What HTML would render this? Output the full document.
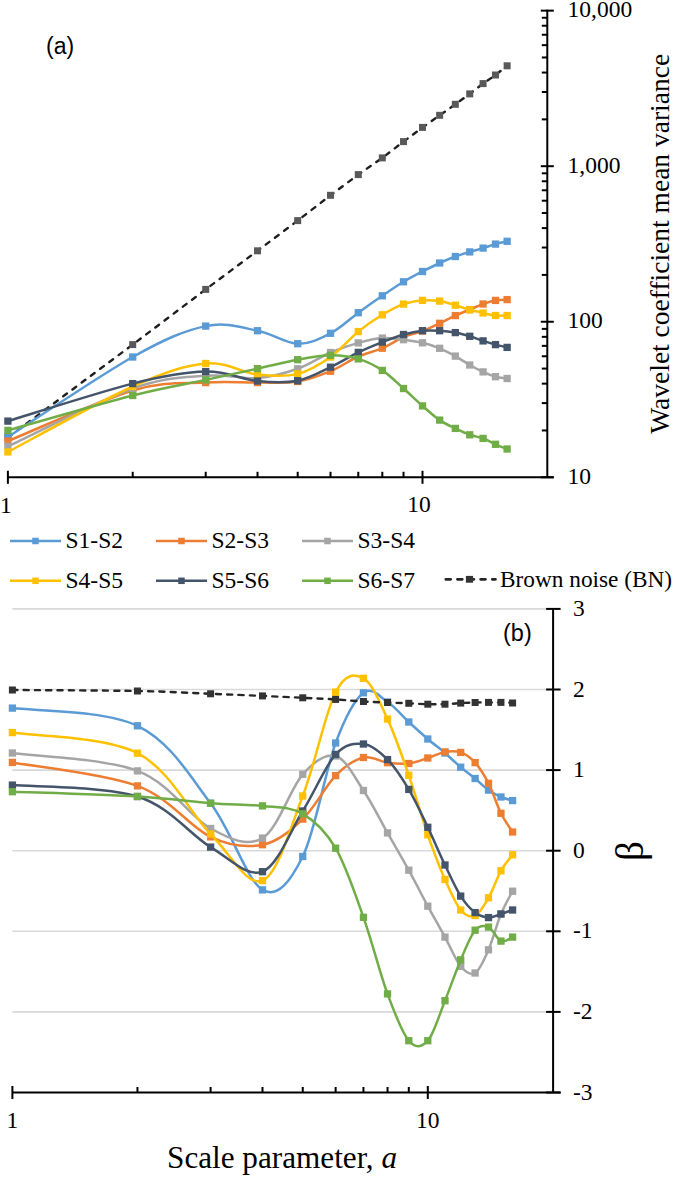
<!DOCTYPE html>
<html><head><meta charset="utf-8"><style>
html,body{margin:0;padding:0;background:#fff;}
body{width:675px;height:1177px;overflow:hidden;font-family:"Liberation Serif",serif;}
svg{display:block;}
</style></head><body>
<svg width="675" height="1177" viewBox="0 0 675 1177">
<rect width="675" height="1177" fill="#fff"/>
<path d="M7.90,437.50 L132.71,344.60 L205.71,289.40 L257.51,250.80 L297.69,220.60 L330.52,195.30 L358.28,174.60 L382.32,157.90 L403.53,141.60 L422.50,127.40 L439.66,115.30 L455.33,104.30 L469.74,93.90 L483.08,83.60 L495.51,75.00 L507.13,65.80" fill="none" stroke="#1e1e1e" stroke-width="2.4" stroke-linejoin="round" stroke-dasharray="4.6 6.9" stroke-linecap="round"/>
<rect x="4.40" y="434.00" width="7" height="7" fill="#595959"/>
<rect x="129.21" y="341.10" width="7" height="7" fill="#595959"/>
<rect x="202.21" y="285.90" width="7" height="7" fill="#595959"/>
<rect x="254.01" y="247.30" width="7" height="7" fill="#595959"/>
<rect x="294.19" y="217.10" width="7" height="7" fill="#595959"/>
<rect x="327.02" y="191.80" width="7" height="7" fill="#595959"/>
<rect x="354.78" y="171.10" width="7" height="7" fill="#595959"/>
<rect x="378.82" y="154.40" width="7" height="7" fill="#595959"/>
<rect x="400.03" y="138.10" width="7" height="7" fill="#595959"/>
<rect x="419.00" y="123.90" width="7" height="7" fill="#595959"/>
<rect x="436.16" y="111.80" width="7" height="7" fill="#595959"/>
<rect x="451.83" y="100.80" width="7" height="7" fill="#595959"/>
<rect x="466.24" y="90.40" width="7" height="7" fill="#595959"/>
<rect x="479.58" y="80.10" width="7" height="7" fill="#595959"/>
<rect x="492.01" y="71.50" width="7" height="7" fill="#595959"/>
<rect x="503.63" y="62.30" width="7" height="7" fill="#595959"/>
<path d="M7.90,437.00 C28.70,423.67 99.74,375.48 132.71,357.00 C165.68,338.52 184.91,330.48 205.71,326.10 C226.52,321.72 242.18,327.77 257.51,330.70 C272.84,333.63 285.53,343.27 297.69,343.70 C309.86,344.13 320.42,338.47 330.52,333.30 C340.62,328.13 349.64,318.95 358.28,312.70 C366.91,306.45 374.78,300.95 382.32,295.80 C389.86,290.65 396.83,285.85 403.53,281.80 C410.23,277.75 416.48,274.63 422.50,271.50 C428.52,268.37 434.19,265.50 439.66,263.00 C445.13,260.50 450.32,258.35 455.33,256.50 C460.34,254.65 465.11,253.30 469.74,251.90 C474.37,250.50 478.79,249.40 483.08,248.10 C487.38,246.80 491.50,245.23 495.51,244.10 C499.51,242.97 505.19,241.77 507.13,241.30" fill="none" stroke="#5B9BD5" stroke-width="2.5" stroke-linejoin="round"/>
<rect x="4.25" y="433.35" width="7.3" height="7.3" fill="#5B9BD5"/>
<rect x="129.06" y="353.35" width="7.3" height="7.3" fill="#5B9BD5"/>
<rect x="202.06" y="322.45" width="7.3" height="7.3" fill="#5B9BD5"/>
<rect x="253.86" y="327.05" width="7.3" height="7.3" fill="#5B9BD5"/>
<rect x="294.04" y="340.05" width="7.3" height="7.3" fill="#5B9BD5"/>
<rect x="326.87" y="329.65" width="7.3" height="7.3" fill="#5B9BD5"/>
<rect x="354.63" y="309.05" width="7.3" height="7.3" fill="#5B9BD5"/>
<rect x="378.67" y="292.15" width="7.3" height="7.3" fill="#5B9BD5"/>
<rect x="399.88" y="278.15" width="7.3" height="7.3" fill="#5B9BD5"/>
<rect x="418.85" y="267.85" width="7.3" height="7.3" fill="#5B9BD5"/>
<rect x="436.01" y="259.35" width="7.3" height="7.3" fill="#5B9BD5"/>
<rect x="451.68" y="252.85" width="7.3" height="7.3" fill="#5B9BD5"/>
<rect x="466.09" y="248.25" width="7.3" height="7.3" fill="#5B9BD5"/>
<rect x="479.43" y="244.45" width="7.3" height="7.3" fill="#5B9BD5"/>
<rect x="491.86" y="240.45" width="7.3" height="7.3" fill="#5B9BD5"/>
<rect x="503.48" y="237.65" width="7.3" height="7.3" fill="#5B9BD5"/>
<path d="M7.90,441.10 C28.70,432.67 99.74,400.25 132.71,390.50 C165.68,380.75 184.91,383.92 205.71,382.60 C226.52,381.28 242.18,382.78 257.51,382.60 C272.84,382.42 285.53,383.40 297.69,381.50 C309.86,379.60 320.42,375.37 330.52,371.20 C340.62,367.03 349.64,360.33 358.28,356.50 C366.91,352.67 374.78,351.45 382.32,348.20 C389.86,344.95 396.83,339.87 403.53,337.00 C410.23,334.13 416.48,333.28 422.50,331.00 C428.52,328.72 434.19,325.87 439.66,323.30 C445.13,320.73 450.32,317.88 455.33,315.60 C460.34,313.32 465.11,311.53 469.74,309.60 C474.37,307.67 478.79,305.53 483.08,304.00 C487.38,302.47 491.50,301.13 495.51,300.40 C499.51,299.67 505.19,299.73 507.13,299.60" fill="none" stroke="#ED7D31" stroke-width="2.5" stroke-linejoin="round"/>
<rect x="4.25" y="437.45" width="7.3" height="7.3" fill="#ED7D31"/>
<rect x="129.06" y="386.85" width="7.3" height="7.3" fill="#ED7D31"/>
<rect x="202.06" y="378.95" width="7.3" height="7.3" fill="#ED7D31"/>
<rect x="253.86" y="378.95" width="7.3" height="7.3" fill="#ED7D31"/>
<rect x="294.04" y="377.85" width="7.3" height="7.3" fill="#ED7D31"/>
<rect x="326.87" y="367.55" width="7.3" height="7.3" fill="#ED7D31"/>
<rect x="354.63" y="352.85" width="7.3" height="7.3" fill="#ED7D31"/>
<rect x="378.67" y="344.55" width="7.3" height="7.3" fill="#ED7D31"/>
<rect x="399.88" y="333.35" width="7.3" height="7.3" fill="#ED7D31"/>
<rect x="418.85" y="327.35" width="7.3" height="7.3" fill="#ED7D31"/>
<rect x="436.01" y="319.65" width="7.3" height="7.3" fill="#ED7D31"/>
<rect x="451.68" y="311.95" width="7.3" height="7.3" fill="#ED7D31"/>
<rect x="466.09" y="305.95" width="7.3" height="7.3" fill="#ED7D31"/>
<rect x="479.43" y="300.35" width="7.3" height="7.3" fill="#ED7D31"/>
<rect x="491.86" y="296.75" width="7.3" height="7.3" fill="#ED7D31"/>
<rect x="503.48" y="295.95" width="7.3" height="7.3" fill="#ED7D31"/>
<path d="M7.90,446.30 C28.70,436.67 99.74,400.27 132.71,388.50 C165.68,376.73 184.91,377.45 205.71,375.70 C226.52,373.95 242.18,379.15 257.51,378.00 C272.84,376.85 285.53,373.05 297.69,368.80 C309.86,364.55 320.42,356.82 330.52,352.50 C340.62,348.18 349.64,345.30 358.28,342.90 C366.91,340.50 374.78,338.63 382.32,338.10 C389.86,337.57 396.83,338.92 403.53,339.70 C410.23,340.48 416.48,341.37 422.50,342.80 C428.52,344.23 434.19,346.08 439.66,348.30 C445.13,350.52 450.32,353.32 455.33,356.10 C460.34,358.88 465.11,362.37 469.74,365.00 C474.37,367.63 478.79,369.95 483.08,371.90 C487.38,373.85 491.50,375.60 495.51,376.70 C499.51,377.80 505.19,378.20 507.13,378.50" fill="none" stroke="#A5A5A5" stroke-width="2.5" stroke-linejoin="round"/>
<rect x="4.25" y="442.65" width="7.3" height="7.3" fill="#A5A5A5"/>
<rect x="129.06" y="384.85" width="7.3" height="7.3" fill="#A5A5A5"/>
<rect x="202.06" y="372.05" width="7.3" height="7.3" fill="#A5A5A5"/>
<rect x="253.86" y="374.35" width="7.3" height="7.3" fill="#A5A5A5"/>
<rect x="294.04" y="365.15" width="7.3" height="7.3" fill="#A5A5A5"/>
<rect x="326.87" y="348.85" width="7.3" height="7.3" fill="#A5A5A5"/>
<rect x="354.63" y="339.25" width="7.3" height="7.3" fill="#A5A5A5"/>
<rect x="378.67" y="334.45" width="7.3" height="7.3" fill="#A5A5A5"/>
<rect x="399.88" y="336.05" width="7.3" height="7.3" fill="#A5A5A5"/>
<rect x="418.85" y="339.15" width="7.3" height="7.3" fill="#A5A5A5"/>
<rect x="436.01" y="344.65" width="7.3" height="7.3" fill="#A5A5A5"/>
<rect x="451.68" y="352.45" width="7.3" height="7.3" fill="#A5A5A5"/>
<rect x="466.09" y="361.35" width="7.3" height="7.3" fill="#A5A5A5"/>
<rect x="479.43" y="368.25" width="7.3" height="7.3" fill="#A5A5A5"/>
<rect x="491.86" y="373.05" width="7.3" height="7.3" fill="#A5A5A5"/>
<rect x="503.48" y="374.85" width="7.3" height="7.3" fill="#A5A5A5"/>
<path d="M7.90,451.90 C28.70,441.00 99.74,401.23 132.71,386.50 C165.68,371.77 184.91,365.50 205.71,363.50 C226.52,361.50 242.18,372.77 257.51,374.50 C272.84,376.23 285.53,376.82 297.69,373.90 C309.86,370.98 320.42,364.05 330.52,357.00 C340.62,349.95 349.64,338.63 358.28,331.60 C366.91,324.57 374.78,319.38 382.32,314.80 C389.86,310.22 396.83,306.50 403.53,304.10 C410.23,301.70 416.48,300.90 422.50,300.40 C428.52,299.90 434.19,300.30 439.66,301.10 C445.13,301.90 450.32,303.75 455.33,305.20 C460.34,306.65 465.11,308.50 469.74,309.80 C474.37,311.10 478.79,312.05 483.08,313.00 C487.38,313.95 491.50,315.08 495.51,315.50 C499.51,315.92 505.19,315.50 507.13,315.50" fill="none" stroke="#FFC000" stroke-width="2.5" stroke-linejoin="round"/>
<rect x="4.25" y="448.25" width="7.3" height="7.3" fill="#FFC000"/>
<rect x="129.06" y="382.85" width="7.3" height="7.3" fill="#FFC000"/>
<rect x="202.06" y="359.85" width="7.3" height="7.3" fill="#FFC000"/>
<rect x="253.86" y="370.85" width="7.3" height="7.3" fill="#FFC000"/>
<rect x="294.04" y="370.25" width="7.3" height="7.3" fill="#FFC000"/>
<rect x="326.87" y="353.35" width="7.3" height="7.3" fill="#FFC000"/>
<rect x="354.63" y="327.95" width="7.3" height="7.3" fill="#FFC000"/>
<rect x="378.67" y="311.15" width="7.3" height="7.3" fill="#FFC000"/>
<rect x="399.88" y="300.45" width="7.3" height="7.3" fill="#FFC000"/>
<rect x="418.85" y="296.75" width="7.3" height="7.3" fill="#FFC000"/>
<rect x="436.01" y="297.45" width="7.3" height="7.3" fill="#FFC000"/>
<rect x="451.68" y="301.55" width="7.3" height="7.3" fill="#FFC000"/>
<rect x="466.09" y="306.15" width="7.3" height="7.3" fill="#FFC000"/>
<rect x="479.43" y="309.35" width="7.3" height="7.3" fill="#FFC000"/>
<rect x="491.86" y="311.85" width="7.3" height="7.3" fill="#FFC000"/>
<rect x="503.48" y="311.85" width="7.3" height="7.3" fill="#FFC000"/>
<path d="M7.90,421.10 C28.70,414.85 99.74,391.85 132.71,383.60 C165.68,375.35 184.91,372.03 205.71,371.60 C226.52,371.17 242.18,379.48 257.51,381.00 C272.84,382.52 285.53,383.00 297.69,380.70 C309.86,378.40 320.42,371.92 330.52,367.20 C340.62,362.48 349.64,356.58 358.28,352.40 C366.91,348.22 374.78,345.08 382.32,342.10 C389.86,339.12 396.83,336.40 403.53,334.50 C410.23,332.60 416.48,331.33 422.50,330.70 C428.52,330.07 434.19,330.38 439.66,330.70 C445.13,331.02 450.32,331.67 455.33,332.60 C460.34,333.53 465.11,334.92 469.74,336.30 C474.37,337.68 478.79,339.52 483.08,340.90 C487.38,342.28 491.50,343.52 495.51,344.60 C499.51,345.68 505.19,346.93 507.13,347.40" fill="none" stroke="#44546A" stroke-width="2.5" stroke-linejoin="round"/>
<rect x="4.25" y="417.45" width="7.3" height="7.3" fill="#44546A"/>
<rect x="129.06" y="379.95" width="7.3" height="7.3" fill="#44546A"/>
<rect x="202.06" y="367.95" width="7.3" height="7.3" fill="#44546A"/>
<rect x="253.86" y="377.35" width="7.3" height="7.3" fill="#44546A"/>
<rect x="294.04" y="377.05" width="7.3" height="7.3" fill="#44546A"/>
<rect x="326.87" y="363.55" width="7.3" height="7.3" fill="#44546A"/>
<rect x="354.63" y="348.75" width="7.3" height="7.3" fill="#44546A"/>
<rect x="378.67" y="338.45" width="7.3" height="7.3" fill="#44546A"/>
<rect x="399.88" y="330.85" width="7.3" height="7.3" fill="#44546A"/>
<rect x="418.85" y="327.05" width="7.3" height="7.3" fill="#44546A"/>
<rect x="436.01" y="327.05" width="7.3" height="7.3" fill="#44546A"/>
<rect x="451.68" y="328.95" width="7.3" height="7.3" fill="#44546A"/>
<rect x="466.09" y="332.65" width="7.3" height="7.3" fill="#44546A"/>
<rect x="479.43" y="337.25" width="7.3" height="7.3" fill="#44546A"/>
<rect x="491.86" y="340.95" width="7.3" height="7.3" fill="#44546A"/>
<rect x="503.48" y="343.75" width="7.3" height="7.3" fill="#44546A"/>
<path d="M7.90,430.40 C28.70,424.58 99.74,403.92 132.71,395.50 C165.68,387.08 184.91,384.38 205.71,379.90 C226.52,375.42 242.18,371.97 257.51,368.60 C272.84,365.23 285.53,361.92 297.69,359.70 C309.86,357.48 320.42,355.43 330.52,355.30 C340.62,355.17 349.64,356.38 358.28,358.90 C366.91,361.42 374.78,365.47 382.32,370.40 C389.86,375.33 396.83,382.58 403.53,388.50 C410.23,394.42 416.48,400.63 422.50,405.90 C428.52,411.17 434.19,416.35 439.66,420.10 C445.13,423.85 450.32,425.95 455.33,428.40 C460.34,430.85 465.11,433.13 469.74,434.80 C474.37,436.47 478.79,436.82 483.08,438.40 C487.38,439.98 491.50,442.53 495.51,444.30 C499.51,446.07 505.19,448.22 507.13,449.00" fill="none" stroke="#70AD47" stroke-width="2.5" stroke-linejoin="round"/>
<rect x="4.25" y="426.75" width="7.3" height="7.3" fill="#70AD47"/>
<rect x="129.06" y="391.85" width="7.3" height="7.3" fill="#70AD47"/>
<rect x="202.06" y="376.25" width="7.3" height="7.3" fill="#70AD47"/>
<rect x="253.86" y="364.95" width="7.3" height="7.3" fill="#70AD47"/>
<rect x="294.04" y="356.05" width="7.3" height="7.3" fill="#70AD47"/>
<rect x="326.87" y="351.65" width="7.3" height="7.3" fill="#70AD47"/>
<rect x="354.63" y="355.25" width="7.3" height="7.3" fill="#70AD47"/>
<rect x="378.67" y="366.75" width="7.3" height="7.3" fill="#70AD47"/>
<rect x="399.88" y="384.85" width="7.3" height="7.3" fill="#70AD47"/>
<rect x="418.85" y="402.25" width="7.3" height="7.3" fill="#70AD47"/>
<rect x="436.01" y="416.45" width="7.3" height="7.3" fill="#70AD47"/>
<rect x="451.68" y="424.75" width="7.3" height="7.3" fill="#70AD47"/>
<rect x="466.09" y="431.15" width="7.3" height="7.3" fill="#70AD47"/>
<rect x="479.43" y="434.75" width="7.3" height="7.3" fill="#70AD47"/>
<rect x="491.86" y="440.65" width="7.3" height="7.3" fill="#70AD47"/>
<rect x="503.48" y="445.35" width="7.3" height="7.3" fill="#70AD47"/>
<g stroke="#000" stroke-width="2"><line x1="7.90" y1="477.30" x2="553.80" y2="477.30"/>
<line x1="547.30" y1="477.30" x2="547.30" y2="9.65"/>
<line x1="7.90" y1="470.80" x2="7.90" y2="483.80"/>
<line x1="132.71" y1="471.80" x2="132.71" y2="477.30"/>
<line x1="205.71" y1="471.80" x2="205.71" y2="477.30"/>
<line x1="257.51" y1="471.80" x2="257.51" y2="477.30"/>
<line x1="297.69" y1="471.80" x2="297.69" y2="477.30"/>
<line x1="330.52" y1="471.80" x2="330.52" y2="477.30"/>
<line x1="358.28" y1="471.80" x2="358.28" y2="477.30"/>
<line x1="382.32" y1="471.80" x2="382.32" y2="477.30"/>
<line x1="403.53" y1="471.80" x2="403.53" y2="477.30"/>
<line x1="422.50" y1="470.80" x2="422.50" y2="483.80"/>
<line x1="540.80" y1="477.30" x2="553.80" y2="477.30"/>
<line x1="541.80" y1="430.47" x2="547.30" y2="430.47"/>
<line x1="541.80" y1="403.08" x2="547.30" y2="403.08"/>
<line x1="541.80" y1="383.65" x2="547.30" y2="383.65"/>
<line x1="541.80" y1="368.58" x2="547.30" y2="368.58"/>
<line x1="541.80" y1="356.26" x2="547.30" y2="356.26"/>
<line x1="541.80" y1="345.84" x2="547.30" y2="345.84"/>
<line x1="541.80" y1="336.82" x2="547.30" y2="336.82"/>
<line x1="541.80" y1="328.87" x2="547.30" y2="328.87"/>
<line x1="540.80" y1="321.75" x2="553.80" y2="321.75"/>
<line x1="541.80" y1="274.92" x2="547.30" y2="274.92"/>
<line x1="541.80" y1="247.53" x2="547.30" y2="247.53"/>
<line x1="541.80" y1="228.10" x2="547.30" y2="228.10"/>
<line x1="541.80" y1="213.03" x2="547.30" y2="213.03"/>
<line x1="541.80" y1="200.71" x2="547.30" y2="200.71"/>
<line x1="541.80" y1="190.29" x2="547.30" y2="190.29"/>
<line x1="541.80" y1="181.27" x2="547.30" y2="181.27"/>
<line x1="541.80" y1="173.32" x2="547.30" y2="173.32"/>
<line x1="540.80" y1="166.20" x2="553.80" y2="166.20"/>
<line x1="541.80" y1="119.37" x2="547.30" y2="119.37"/>
<line x1="541.80" y1="91.98" x2="547.30" y2="91.98"/>
<line x1="541.80" y1="72.55" x2="547.30" y2="72.55"/>
<line x1="541.80" y1="57.48" x2="547.30" y2="57.48"/>
<line x1="541.80" y1="45.16" x2="547.30" y2="45.16"/>
<line x1="541.80" y1="34.74" x2="547.30" y2="34.74"/>
<line x1="541.80" y1="25.72" x2="547.30" y2="25.72"/>
<line x1="541.80" y1="17.77" x2="547.30" y2="17.77"/>
<line x1="540.80" y1="10.65" x2="553.80" y2="10.65"/></g>
<g stroke="#D9D9D9" stroke-width="1.6"><line x1="12.40" y1="608.90" x2="553.10" y2="608.90"/>
<line x1="12.40" y1="689.50" x2="553.10" y2="689.50"/>
<line x1="12.40" y1="770.10" x2="553.10" y2="770.10"/>
<line x1="12.40" y1="850.70" x2="553.10" y2="850.70"/>
<line x1="12.40" y1="931.30" x2="553.10" y2="931.30"/>
<line x1="12.40" y1="1011.90" x2="553.10" y2="1011.90"/></g>
<path d="M12.40,708.10 C33.24,711.05 104.42,709.93 137.45,725.80 C170.48,741.67 189.75,775.95 210.60,803.30 C231.44,830.65 247.14,881.03 262.50,889.90 C277.86,898.77 290.56,880.98 302.75,856.50 C314.94,832.02 325.53,770.28 335.64,743.00 C345.76,715.72 354.80,699.63 363.45,692.80 C372.10,685.97 379.99,697.13 387.54,702.00 C395.10,706.87 402.08,715.83 408.79,722.00 C415.50,728.17 421.77,733.83 427.80,739.00 C433.83,744.17 439.51,748.30 444.99,753.00 C450.48,757.70 455.67,762.95 460.69,767.20 C465.71,771.45 470.50,774.68 475.13,778.50 C479.77,782.32 484.20,787.02 488.50,790.10 C492.80,793.18 496.93,795.25 500.95,797.00 C504.96,798.75 510.65,800.00 512.59,800.60" fill="none" stroke="#5B9BD5" stroke-width="2.5" stroke-linejoin="round"/>
<rect x="8.75" y="704.45" width="7.3" height="7.3" fill="#5B9BD5"/>
<rect x="133.80" y="722.15" width="7.3" height="7.3" fill="#5B9BD5"/>
<rect x="206.95" y="799.65" width="7.3" height="7.3" fill="#5B9BD5"/>
<rect x="258.85" y="886.25" width="7.3" height="7.3" fill="#5B9BD5"/>
<rect x="299.10" y="852.85" width="7.3" height="7.3" fill="#5B9BD5"/>
<rect x="331.99" y="739.35" width="7.3" height="7.3" fill="#5B9BD5"/>
<rect x="359.80" y="689.15" width="7.3" height="7.3" fill="#5B9BD5"/>
<rect x="383.89" y="698.35" width="7.3" height="7.3" fill="#5B9BD5"/>
<rect x="405.14" y="718.35" width="7.3" height="7.3" fill="#5B9BD5"/>
<rect x="424.15" y="735.35" width="7.3" height="7.3" fill="#5B9BD5"/>
<rect x="441.34" y="749.35" width="7.3" height="7.3" fill="#5B9BD5"/>
<rect x="457.04" y="763.55" width="7.3" height="7.3" fill="#5B9BD5"/>
<rect x="471.48" y="774.85" width="7.3" height="7.3" fill="#5B9BD5"/>
<rect x="484.85" y="786.45" width="7.3" height="7.3" fill="#5B9BD5"/>
<rect x="497.30" y="793.35" width="7.3" height="7.3" fill="#5B9BD5"/>
<rect x="508.94" y="796.95" width="7.3" height="7.3" fill="#5B9BD5"/>
<path d="M12.40,762.40 C33.24,766.32 104.42,773.48 137.45,785.90 C170.48,798.32 189.75,827.10 210.60,836.90 C231.44,846.70 247.14,847.67 262.50,844.70 C277.86,841.73 290.56,830.62 302.75,819.10 C314.94,807.58 325.53,785.87 335.64,775.60 C345.76,765.33 354.80,759.65 363.45,757.50 C372.10,755.35 379.99,761.70 387.54,762.70 C395.10,763.70 402.08,764.28 408.79,763.50 C415.50,762.72 421.77,759.93 427.80,758.00 C433.83,756.07 439.51,752.83 444.99,751.90 C450.48,750.97 455.67,750.62 460.69,752.40 C465.71,754.18 470.50,757.45 475.13,762.60 C479.77,767.75 484.20,774.85 488.50,783.30 C492.80,791.75 496.93,805.18 500.95,813.30 C504.96,821.42 510.65,828.88 512.59,832.00" fill="none" stroke="#ED7D31" stroke-width="2.5" stroke-linejoin="round"/>
<rect x="8.75" y="758.75" width="7.3" height="7.3" fill="#ED7D31"/>
<rect x="133.80" y="782.25" width="7.3" height="7.3" fill="#ED7D31"/>
<rect x="206.95" y="833.25" width="7.3" height="7.3" fill="#ED7D31"/>
<rect x="258.85" y="841.05" width="7.3" height="7.3" fill="#ED7D31"/>
<rect x="299.10" y="815.45" width="7.3" height="7.3" fill="#ED7D31"/>
<rect x="331.99" y="771.95" width="7.3" height="7.3" fill="#ED7D31"/>
<rect x="359.80" y="753.85" width="7.3" height="7.3" fill="#ED7D31"/>
<rect x="383.89" y="759.05" width="7.3" height="7.3" fill="#ED7D31"/>
<rect x="405.14" y="759.85" width="7.3" height="7.3" fill="#ED7D31"/>
<rect x="424.15" y="754.35" width="7.3" height="7.3" fill="#ED7D31"/>
<rect x="441.34" y="748.25" width="7.3" height="7.3" fill="#ED7D31"/>
<rect x="457.04" y="748.75" width="7.3" height="7.3" fill="#ED7D31"/>
<rect x="471.48" y="758.95" width="7.3" height="7.3" fill="#ED7D31"/>
<rect x="484.85" y="779.65" width="7.3" height="7.3" fill="#ED7D31"/>
<rect x="497.30" y="809.65" width="7.3" height="7.3" fill="#ED7D31"/>
<rect x="508.94" y="828.35" width="7.3" height="7.3" fill="#ED7D31"/>
<path d="M12.40,753.00 C33.24,755.98 104.42,758.32 137.45,770.90 C170.48,783.48 189.75,817.30 210.60,828.50 C231.44,839.70 247.14,847.13 262.50,838.10 C277.86,829.07 290.56,787.98 302.75,774.30 C314.94,760.62 325.53,753.30 335.64,756.00 C345.76,758.70 354.80,777.68 363.45,790.50 C372.10,803.32 379.99,819.62 387.54,832.90 C395.10,846.18 402.08,857.98 408.79,870.20 C415.50,882.42 421.77,895.05 427.80,906.20 C433.83,917.35 439.51,927.08 444.99,937.10 C450.48,947.12 455.67,960.32 460.69,966.30 C465.71,972.28 470.50,975.75 475.13,973.00 C479.77,970.25 484.20,959.63 488.50,949.80 C492.80,939.97 496.93,923.77 500.95,914.00 C504.96,904.23 510.65,895.00 512.59,891.20" fill="none" stroke="#A5A5A5" stroke-width="2.5" stroke-linejoin="round"/>
<rect x="8.75" y="749.35" width="7.3" height="7.3" fill="#A5A5A5"/>
<rect x="133.80" y="767.25" width="7.3" height="7.3" fill="#A5A5A5"/>
<rect x="206.95" y="824.85" width="7.3" height="7.3" fill="#A5A5A5"/>
<rect x="258.85" y="834.45" width="7.3" height="7.3" fill="#A5A5A5"/>
<rect x="299.10" y="770.65" width="7.3" height="7.3" fill="#A5A5A5"/>
<rect x="331.99" y="752.35" width="7.3" height="7.3" fill="#A5A5A5"/>
<rect x="359.80" y="786.85" width="7.3" height="7.3" fill="#A5A5A5"/>
<rect x="383.89" y="829.25" width="7.3" height="7.3" fill="#A5A5A5"/>
<rect x="405.14" y="866.55" width="7.3" height="7.3" fill="#A5A5A5"/>
<rect x="424.15" y="902.55" width="7.3" height="7.3" fill="#A5A5A5"/>
<rect x="441.34" y="933.45" width="7.3" height="7.3" fill="#A5A5A5"/>
<rect x="457.04" y="962.65" width="7.3" height="7.3" fill="#A5A5A5"/>
<rect x="471.48" y="969.35" width="7.3" height="7.3" fill="#A5A5A5"/>
<rect x="484.85" y="946.15" width="7.3" height="7.3" fill="#A5A5A5"/>
<rect x="497.30" y="910.35" width="7.3" height="7.3" fill="#A5A5A5"/>
<rect x="508.94" y="887.55" width="7.3" height="7.3" fill="#A5A5A5"/>
<path d="M12.40,732.60 C33.24,736.03 104.42,736.30 137.45,753.20 C170.48,770.10 189.75,812.77 210.60,834.00 C231.44,855.23 247.14,886.93 262.50,880.60 C277.86,874.27 290.56,827.40 302.75,796.00 C314.94,764.60 325.53,711.82 335.64,692.20 C345.76,672.58 354.80,673.82 363.45,678.30 C372.10,682.78 379.99,702.93 387.54,719.10 C395.10,735.27 402.08,756.02 408.79,775.30 C415.50,794.58 421.77,817.43 427.80,834.80 C433.83,852.17 439.51,866.97 444.99,879.50 C450.48,892.03 455.67,904.00 460.69,910.00 C465.71,916.00 470.50,917.53 475.13,915.50 C479.77,913.47 484.20,905.25 488.50,897.80 C492.80,890.35 496.93,877.97 500.95,870.80 C504.96,863.63 510.65,857.47 512.59,854.80" fill="none" stroke="#FFC000" stroke-width="2.5" stroke-linejoin="round"/>
<rect x="8.75" y="728.95" width="7.3" height="7.3" fill="#FFC000"/>
<rect x="133.80" y="749.55" width="7.3" height="7.3" fill="#FFC000"/>
<rect x="206.95" y="830.35" width="7.3" height="7.3" fill="#FFC000"/>
<rect x="258.85" y="876.95" width="7.3" height="7.3" fill="#FFC000"/>
<rect x="299.10" y="792.35" width="7.3" height="7.3" fill="#FFC000"/>
<rect x="331.99" y="688.55" width="7.3" height="7.3" fill="#FFC000"/>
<rect x="359.80" y="674.65" width="7.3" height="7.3" fill="#FFC000"/>
<rect x="383.89" y="715.45" width="7.3" height="7.3" fill="#FFC000"/>
<rect x="405.14" y="771.65" width="7.3" height="7.3" fill="#FFC000"/>
<rect x="424.15" y="831.15" width="7.3" height="7.3" fill="#FFC000"/>
<rect x="441.34" y="875.85" width="7.3" height="7.3" fill="#FFC000"/>
<rect x="457.04" y="906.35" width="7.3" height="7.3" fill="#FFC000"/>
<rect x="471.48" y="911.85" width="7.3" height="7.3" fill="#FFC000"/>
<rect x="484.85" y="894.15" width="7.3" height="7.3" fill="#FFC000"/>
<rect x="497.30" y="867.15" width="7.3" height="7.3" fill="#FFC000"/>
<rect x="508.94" y="851.15" width="7.3" height="7.3" fill="#FFC000"/>
<path d="M12.40,785.10 C33.24,787.00 104.42,786.17 137.45,796.50 C170.48,806.83 189.75,834.57 210.60,847.10 C231.44,859.63 247.14,877.72 262.50,871.70 C277.86,865.68 290.56,830.55 302.75,811.00 C314.94,791.45 325.53,765.57 335.64,754.40 C345.76,743.23 354.80,743.13 363.45,744.00 C372.10,744.87 379.99,752.03 387.54,759.60 C395.10,767.17 402.08,778.12 408.79,789.40 C415.50,800.68 421.77,814.70 427.80,827.30 C433.83,839.90 439.51,853.53 444.99,865.00 C450.48,876.47 455.67,888.17 460.69,896.10 C465.71,904.03 470.50,909.02 475.13,912.60 C479.77,916.18 484.20,917.37 488.50,917.60 C492.80,917.83 496.93,915.27 500.95,914.00 C504.96,912.73 510.65,910.67 512.59,910.00" fill="none" stroke="#44546A" stroke-width="2.5" stroke-linejoin="round"/>
<rect x="8.75" y="781.45" width="7.3" height="7.3" fill="#44546A"/>
<rect x="133.80" y="792.85" width="7.3" height="7.3" fill="#44546A"/>
<rect x="206.95" y="843.45" width="7.3" height="7.3" fill="#44546A"/>
<rect x="258.85" y="868.05" width="7.3" height="7.3" fill="#44546A"/>
<rect x="299.10" y="807.35" width="7.3" height="7.3" fill="#44546A"/>
<rect x="331.99" y="750.75" width="7.3" height="7.3" fill="#44546A"/>
<rect x="359.80" y="740.35" width="7.3" height="7.3" fill="#44546A"/>
<rect x="383.89" y="755.95" width="7.3" height="7.3" fill="#44546A"/>
<rect x="405.14" y="785.75" width="7.3" height="7.3" fill="#44546A"/>
<rect x="424.15" y="823.65" width="7.3" height="7.3" fill="#44546A"/>
<rect x="441.34" y="861.35" width="7.3" height="7.3" fill="#44546A"/>
<rect x="457.04" y="892.45" width="7.3" height="7.3" fill="#44546A"/>
<rect x="471.48" y="908.95" width="7.3" height="7.3" fill="#44546A"/>
<rect x="484.85" y="913.95" width="7.3" height="7.3" fill="#44546A"/>
<rect x="497.30" y="910.35" width="7.3" height="7.3" fill="#44546A"/>
<rect x="508.94" y="906.35" width="7.3" height="7.3" fill="#44546A"/>
<path d="M12.40,791.70 C33.24,792.50 104.42,794.58 137.45,796.50 C170.48,798.42 189.75,801.63 210.60,803.20 C231.44,804.77 247.14,804.13 262.50,805.90 C277.86,807.67 290.56,806.75 302.75,813.80 C314.94,820.85 325.53,830.95 335.64,848.20 C345.76,865.45 354.80,893.02 363.45,917.30 C372.10,941.58 379.99,973.33 387.54,993.90 C395.10,1014.47 402.08,1032.90 408.79,1040.70 C415.50,1048.50 421.77,1047.37 427.80,1040.70 C433.83,1034.03 439.51,1014.17 444.99,1000.70 C450.48,987.23 455.67,971.65 460.69,959.90 C465.71,948.15 470.50,935.67 475.13,930.20 C479.77,924.73 484.20,925.28 488.50,927.10 C492.80,928.92 496.93,939.43 500.95,941.10 C504.96,942.77 510.65,937.77 512.59,937.10" fill="none" stroke="#70AD47" stroke-width="2.5" stroke-linejoin="round"/>
<rect x="8.75" y="788.05" width="7.3" height="7.3" fill="#70AD47"/>
<rect x="133.80" y="792.85" width="7.3" height="7.3" fill="#70AD47"/>
<rect x="206.95" y="799.55" width="7.3" height="7.3" fill="#70AD47"/>
<rect x="258.85" y="802.25" width="7.3" height="7.3" fill="#70AD47"/>
<rect x="299.10" y="810.15" width="7.3" height="7.3" fill="#70AD47"/>
<rect x="331.99" y="844.55" width="7.3" height="7.3" fill="#70AD47"/>
<rect x="359.80" y="913.65" width="7.3" height="7.3" fill="#70AD47"/>
<rect x="383.89" y="990.25" width="7.3" height="7.3" fill="#70AD47"/>
<rect x="405.14" y="1037.05" width="7.3" height="7.3" fill="#70AD47"/>
<rect x="424.15" y="1037.05" width="7.3" height="7.3" fill="#70AD47"/>
<rect x="441.34" y="997.05" width="7.3" height="7.3" fill="#70AD47"/>
<rect x="457.04" y="956.25" width="7.3" height="7.3" fill="#70AD47"/>
<rect x="471.48" y="926.55" width="7.3" height="7.3" fill="#70AD47"/>
<rect x="484.85" y="923.45" width="7.3" height="7.3" fill="#70AD47"/>
<rect x="497.30" y="937.45" width="7.3" height="7.3" fill="#70AD47"/>
<rect x="508.94" y="933.45" width="7.3" height="7.3" fill="#70AD47"/>
<path d="M12.40,690.00 C33.24,690.17 104.42,690.37 137.45,691.00 C170.48,691.63 189.75,692.98 210.60,693.80 C231.44,694.62 247.14,695.23 262.50,695.90 C277.86,696.57 290.56,697.22 302.75,697.80 C314.94,698.38 325.53,698.78 335.64,699.40 C345.76,700.02 354.80,700.98 363.45,701.50 C372.10,702.02 379.99,702.20 387.54,702.50 C395.10,702.80 402.08,703.02 408.79,703.30 C415.50,703.58 421.77,704.05 427.80,704.20 C433.83,704.35 439.51,704.38 444.99,704.20 C450.48,704.02 455.67,703.38 460.69,703.10 C465.71,702.82 470.50,702.62 475.13,702.50 C479.77,702.38 484.20,702.42 488.50,702.40 C492.80,702.38 496.93,702.30 500.95,702.40 C504.96,702.50 510.65,702.90 512.59,703.00" fill="none" stroke="#262626" stroke-width="2.4" stroke-linejoin="round" stroke-dasharray="5.1 6.2" stroke-linecap="round"/>
<rect x="8.90" y="686.50" width="7" height="7" fill="#333333"/>
<rect x="133.95" y="687.50" width="7" height="7" fill="#333333"/>
<rect x="207.10" y="690.30" width="7" height="7" fill="#333333"/>
<rect x="259.00" y="692.40" width="7" height="7" fill="#333333"/>
<rect x="299.25" y="694.30" width="7" height="7" fill="#333333"/>
<rect x="332.14" y="695.90" width="7" height="7" fill="#333333"/>
<rect x="359.95" y="698.00" width="7" height="7" fill="#333333"/>
<rect x="384.04" y="699.00" width="7" height="7" fill="#333333"/>
<rect x="405.29" y="699.80" width="7" height="7" fill="#333333"/>
<rect x="424.30" y="700.70" width="7" height="7" fill="#333333"/>
<rect x="441.49" y="700.70" width="7" height="7" fill="#333333"/>
<rect x="457.19" y="699.60" width="7" height="7" fill="#333333"/>
<rect x="471.63" y="699.00" width="7" height="7" fill="#333333"/>
<rect x="485.00" y="698.90" width="7" height="7" fill="#333333"/>
<rect x="497.45" y="698.90" width="7" height="7" fill="#333333"/>
<rect x="509.09" y="699.50" width="7" height="7" fill="#333333"/>
<g stroke="#000" stroke-width="2"><line x1="12.40" y1="1092.50" x2="560.60" y2="1092.50"/>
<line x1="553.10" y1="1092.50" x2="553.10" y2="608.90"/>
<line x1="12.40" y1="1086.00" x2="12.40" y2="1099.00"/>
<line x1="137.45" y1="1087.00" x2="137.45" y2="1092.50"/>
<line x1="210.60" y1="1087.00" x2="210.60" y2="1092.50"/>
<line x1="262.50" y1="1087.00" x2="262.50" y2="1092.50"/>
<line x1="302.75" y1="1087.00" x2="302.75" y2="1092.50"/>
<line x1="335.64" y1="1087.00" x2="335.64" y2="1092.50"/>
<line x1="363.45" y1="1087.00" x2="363.45" y2="1092.50"/>
<line x1="387.54" y1="1087.00" x2="387.54" y2="1092.50"/>
<line x1="408.79" y1="1087.00" x2="408.79" y2="1092.50"/>
<line x1="427.80" y1="1086.00" x2="427.80" y2="1099.00"/>
<line x1="546.10" y1="608.90" x2="560.60" y2="608.90"/>
<line x1="546.10" y1="689.50" x2="560.60" y2="689.50"/>
<line x1="546.10" y1="770.10" x2="560.60" y2="770.10"/>
<line x1="546.10" y1="850.70" x2="560.60" y2="850.70"/>
<line x1="546.10" y1="931.30" x2="560.60" y2="931.30"/>
<line x1="546.10" y1="1011.90" x2="560.60" y2="1011.90"/>
<line x1="546.10" y1="1092.50" x2="560.60" y2="1092.50"/></g>
<line x1="10" y1="541" x2="61" y2="541" stroke="#5B9BD5" stroke-width="2.5"/>
<rect x="32.25" y="537.75" width="6.5" height="6.5" fill="#5B9BD5"/>
<line x1="156" y1="541" x2="207" y2="541" stroke="#ED7D31" stroke-width="2.5"/>
<rect x="178.25" y="537.75" width="6.5" height="6.5" fill="#ED7D31"/>
<line x1="302" y1="541" x2="353" y2="541" stroke="#A5A5A5" stroke-width="2.5"/>
<rect x="324.25" y="537.75" width="6.5" height="6.5" fill="#A5A5A5"/>
<line x1="10" y1="580.8" x2="61" y2="580.8" stroke="#FFC000" stroke-width="2.5"/>
<rect x="32.25" y="577.55" width="6.5" height="6.5" fill="#FFC000"/>
<line x1="156" y1="580.8" x2="207" y2="580.8" stroke="#44546A" stroke-width="2.5"/>
<rect x="178.25" y="577.55" width="6.5" height="6.5" fill="#44546A"/>
<line x1="302" y1="580.8" x2="353" y2="580.8" stroke="#70AD47" stroke-width="2.5"/>
<rect x="324.25" y="577.55" width="6.5" height="6.5" fill="#70AD47"/>
<line x1="445.8" y1="579.3" x2="495.5" y2="579.3" stroke="#262626" stroke-width="2.7" stroke-dasharray="4.9 6.7" stroke-linecap="round"/>
<rect x="465.9" y="575.9" width="7.2" height="6.8" fill="#333"/>
<text x="567.6" y="17.25" font-family="Liberation Serif, serif" font-size="23.5">10,000</text>
<text x="567.6" y="172.80" font-family="Liberation Serif, serif" font-size="23.5">1,000</text>
<text x="567.6" y="328.35" font-family="Liberation Serif, serif" font-size="23.5">100</text>
<text x="567.6" y="483.90" font-family="Liberation Serif, serif" font-size="23.5">10</text>
<text x="5.90" y="513" font-family="Liberation Serif, serif" font-size="23.5" text-anchor="middle">1</text>
<text x="419.00" y="512" font-family="Liberation Serif, serif" font-size="23.5" text-anchor="middle">10</text>
<text x="573" y="615.90" font-family="Liberation Serif, serif" font-size="23.5">3</text>
<text x="573" y="696.50" font-family="Liberation Serif, serif" font-size="23.5">2</text>
<text x="573" y="777.10" font-family="Liberation Serif, serif" font-size="23.5">1</text>
<text x="573" y="857.70" font-family="Liberation Serif, serif" font-size="23.5">0</text>
<text x="573" y="938.30" font-family="Liberation Serif, serif" font-size="23.5">-1</text>
<text x="573" y="1018.90" font-family="Liberation Serif, serif" font-size="23.5">-2</text>
<text x="573" y="1099.50" font-family="Liberation Serif, serif" font-size="23.5">-3</text>
<text x="12.40" y="1128" font-family="Liberation Serif, serif" font-size="23.5" text-anchor="middle">1</text>
<text x="427.80" y="1128" font-family="Liberation Serif, serif" font-size="23.5" text-anchor="middle">10</text>
<text transform="translate(669.3,243.8) rotate(-90)" font-family="Liberation Serif, serif" font-size="27.5" text-anchor="middle">Wavelet coefficient mean variance</text>
<text transform="translate(643,851) rotate(-90)" font-family="Liberation Serif, serif" font-size="39" text-anchor="middle">&#946;</text>
<text x="282" y="1168" font-family="Liberation Serif, serif" font-size="31.2" text-anchor="middle">Scale parameter, <tspan font-style="italic">a</tspan></text>
<text x="46" y="53.5" font-family="Liberation Sans, sans-serif" font-size="23">(a)</text>
<text x="503" y="640.5" font-family="Liberation Sans, sans-serif" font-size="23.5">(b)</text>
<text x="65.5" y="547.7" font-family="Liberation Serif, serif" font-size="23.5">S1-S2</text>
<text x="211.5" y="547.7" font-family="Liberation Serif, serif" font-size="23.5">S2-S3</text>
<text x="357.5" y="547.7" font-family="Liberation Serif, serif" font-size="23.5">S3-S4</text>
<text x="65.5" y="587.5" font-family="Liberation Serif, serif" font-size="23.5">S4-S5</text>
<text x="211.5" y="587.5" font-family="Liberation Serif, serif" font-size="23.5">S5-S6</text>
<text x="357.5" y="587.5" font-family="Liberation Serif, serif" font-size="23.5">S6-S7</text>
<text x="500.0" y="587.3" font-family="Liberation Serif, serif" font-size="23.3">Brown noise (BN)</text>
</svg>
</body></html>
